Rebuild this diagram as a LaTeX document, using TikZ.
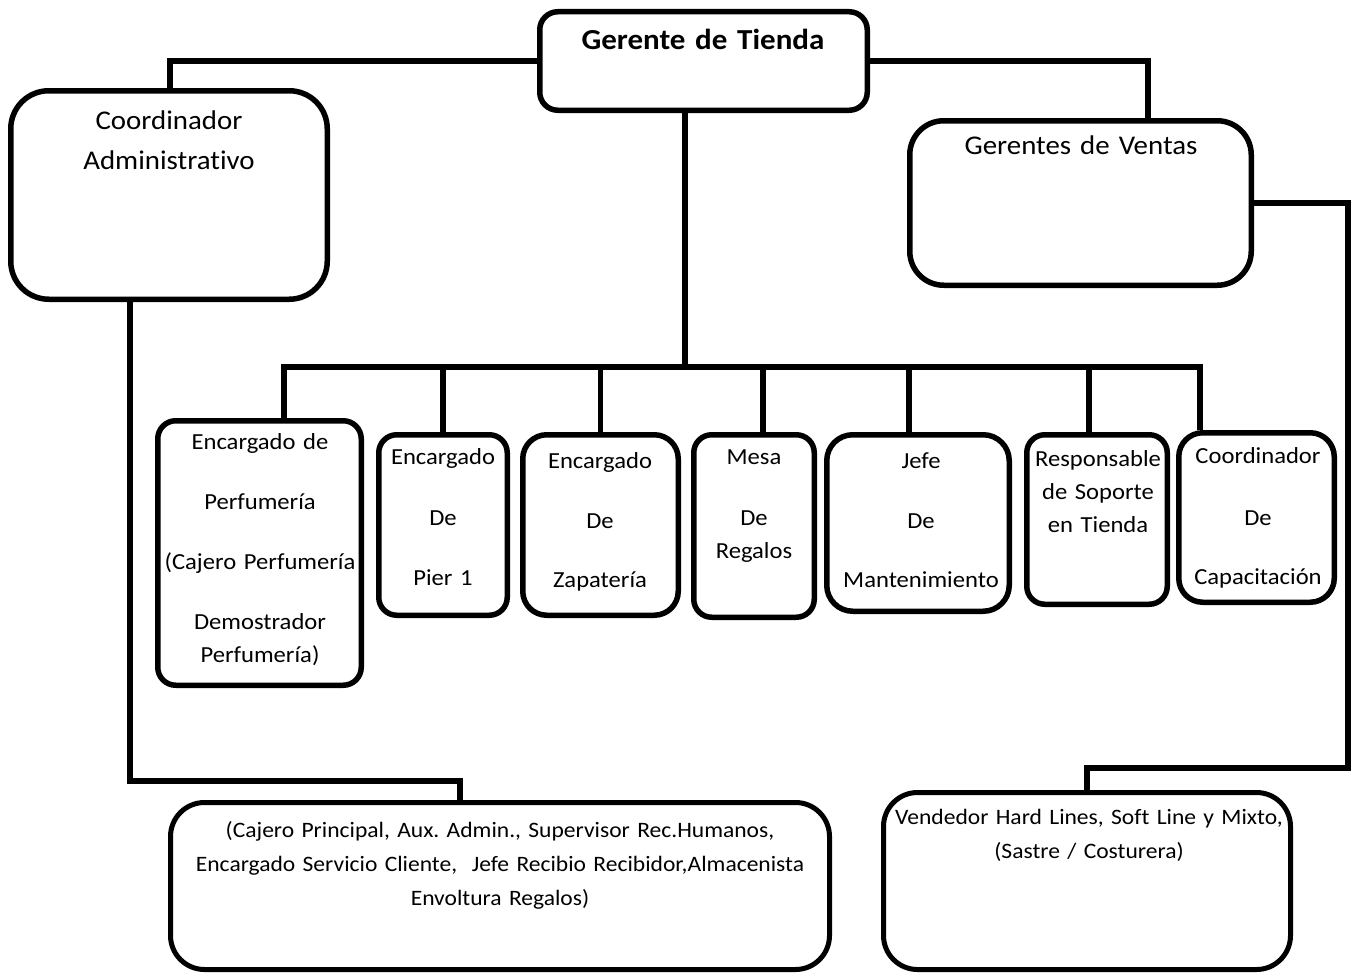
\documentclass[tikz,border=0pt]{standalone}
\usepackage{fontspec}
\setmainfont{Carlito}[FakeStretch=1.07, WordSpace=0.65, Ligatures=NoCommon]
\frenchspacing
\begin{document}
\begin{tikzpicture}[x=1pt,y=-1pt,
  box/.style={draw, line width=5.5pt, rounded corners=18pt, inner sep=0pt},
  conn/.style={line width=5.5pt},
  txt/.style={align=center, inner sep=0pt, anchor=base, text width=#1},
  txt/.default=300pt,
  small/.style={font=\fontsize{23}{33}\selectfont},
  mid/.style={font=\fontsize{22}{34}\selectfont},
  big/.style={font=\fontsize{27}{40}\selectfont}]
\useasboundingbox (0,0) rectangle (1357,974);
% boxes
\node[box, minimum width=327.5pt, minimum height=98.5pt] (gt) at (703.5,61) {};
\node[box, rounded corners=38pt, minimum width=316.5pt, minimum height=208.5pt] (ca) at (169,195) {};
\node[box, rounded corners=34pt, minimum width=341.5pt, minimum height=164.5pt] (gv) at (1080.5,203) {};
\node[box, minimum width=203.5pt, minimum height=264.5pt] (pf) at (259.5,553) {};
\node[box, minimum width=128.5pt, minimum height=180.5pt] (p1) at (443,525) {};
\node[box, rounded corners=24pt, minimum width=155.5pt, minimum height=180.5pt] (zp) at (600.5,525) {};
\node[box, minimum width=120.5pt, minimum height=182.5pt] (ms) at (754,526) {};
\node[box, rounded corners=26pt, minimum width=182.5pt, minimum height=176.5pt] (jf) at (918,523) {};
\node[box, minimum width=140.5pt, minimum height=169.5pt] (rs) at (1097,519.5) {};
\node[box, rounded corners=24pt, minimum width=155.5pt, minimum height=169.5pt] (cc) at (1256.5,517.5) {};
\node[box, line width=5pt, rounded corners=34pt, minimum width=659pt, minimum height=167pt] (bl) at (500,886) {};
\node[box, line width=5pt, rounded corners=34pt, minimum width=407pt, minimum height=177pt] (br) at (1087,881) {};
% texts
\node[txt, font=\fontsize{29}{36}\selectfont\bfseries] (gtT) at (703,49) {Gerente de Tienda};
\node[txt, big] (caT) at (169,129) {Coordinador\\Administrativo};
\node[txt, big] (gvT) at (1081,154) {Gerentes de Ventas};
\node[txt=200pt, small] (pfT) at (260,449) {Encargado de\\[27pt]Perfumería\\[27pt](Cajero Perfumería\\[27pt]Demostrador\\Perfumería)};
\node[txt=130pt, small] (p1T) at (443,464) {Encargado\\[28pt]De\\[27pt]Pier 1};
\node[txt=150pt, small] (zpT) at (600,468) {Encargado\\[27pt]De\\[26pt]Zapatería};
\node[txt=120pt, small] (msT) at (754,464) {Mesa\\[28pt]De\\Regalos};
\node[txt=180pt, small] (jfT) at (921,468) {Jefe\\[27pt]De\\[26pt]Mantenimiento};
\node[txt=140pt, small] (rsT) at (1098,466) {Responsable\\de Soporte\\en Tienda};
\node[txt=150pt, small] (ccT) at (1258,463) {Coordinador\\[29pt]De\\[26pt]Capacitación};
\node[txt=660pt, mid] (blT) at (500,837) {(Cajero Principal, Aux. Admin., Supervisor Rec.Humanos,\\Encargado Servicio Cliente,\ \ Jefe Recibio Recibidor,Almacenista\\Envoltura Regalos)};
\node[txt=420pt, mid] (brT) at (1089,824) {Vendedor Hard Lines, Soft Line y Mixto,\\(Sastre / Costurera)};
% junction coordinates
\coordinate (bus) at (685,367);
\coordinate (l1) at (130,781);
\coordinate (r1) at (1348,768);
% connectors
\draw[conn] (gt.west) -| ([xshift=1pt]ca.north);
\draw[conn] (gt.east) -| ([xshift=67.5pt]gv.north);
\draw[conn] (gt.south -| bus) -- (bus);
\draw[conn] (bus) -| ([xshift=24.5pt]pf.north);
\draw[conn] (bus) -| ([xshift=-56.5pt]cc.north);
\draw[conn] (bus -| p1.north) -- (p1.north);
\draw[conn] (bus -| zp.north) -- (zp.north);
\draw[conn] (bus -| 763,0) -- ([xshift=9pt]ms.north);
\draw[conn] (bus -| 909,0) -- ([xshift=-9pt]jf.north);
\draw[conn] (bus -| 1089,0) -- ([xshift=-8pt]rs.north);
\draw[conn] ([xshift=-39pt]ca.south) -- (l1) -| ([xshift=-40pt]bl.north);
\draw[conn] (gv.east) -| (r1) -| (br.north);
\end{tikzpicture}
\end{document}
